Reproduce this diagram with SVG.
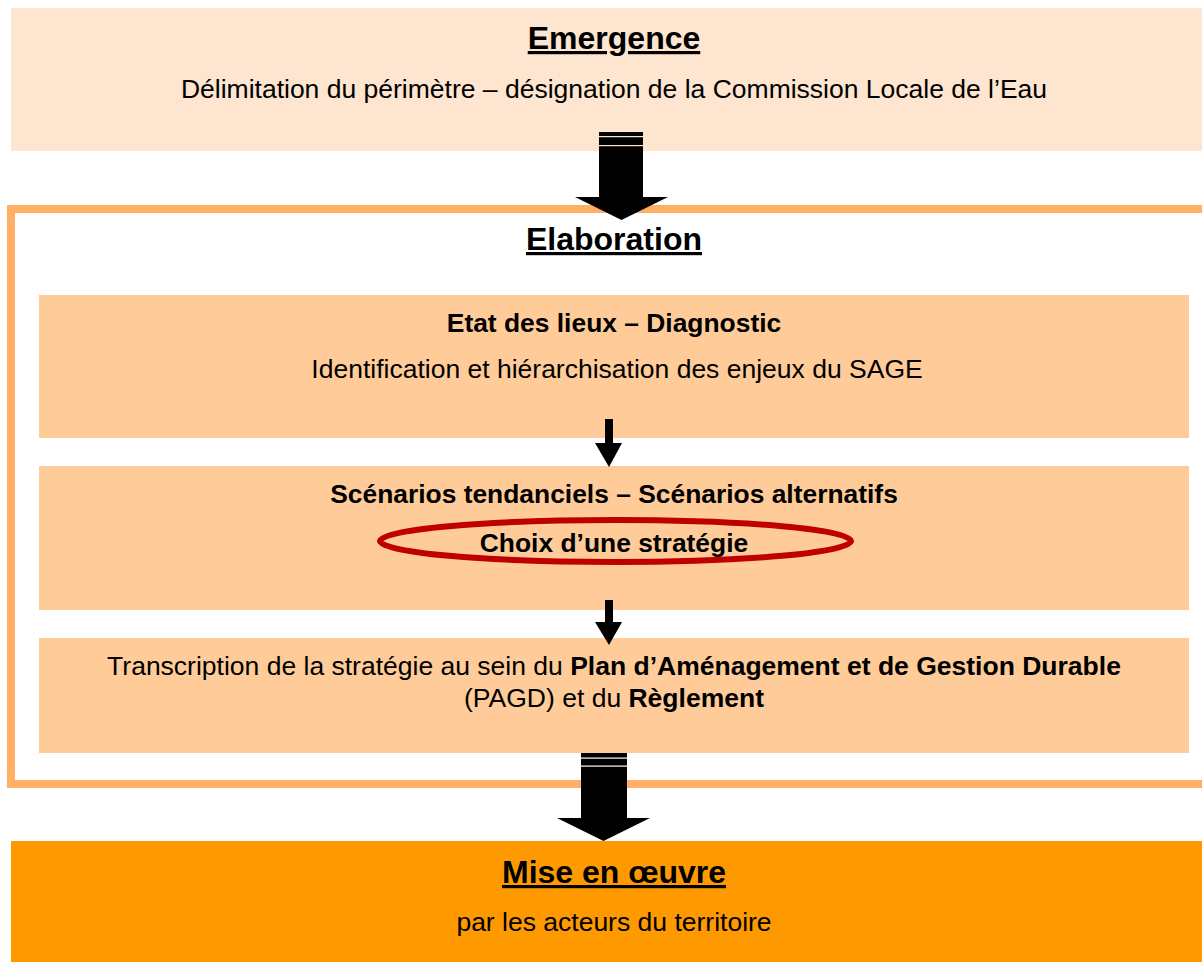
<svg xmlns="http://www.w3.org/2000/svg" width="1202" height="962" viewBox="0 0 1202 962">
<style>
text{font-family:"Liberation Sans",Arial,sans-serif;fill:#000;text-anchor:middle}
.title{font-size:32px;font-weight:bold;text-decoration:underline}
.body{font-size:26.5px}
.sub{font-size:26.4px;font-weight:bold}
.inner{fill:#FFCC99}
.big{fill:#000}
</style>
<rect x="0" y="0" width="1202" height="962" fill="#fff"/>
<g id="emergence">
<rect x="11" y="8" width="1191" height="143" fill="#FDE5CF"/>
<text class="title" x="614" y="49">Emergence</text>
<text class="body" x="614" y="98">Délimitation du périmètre – désignation de la Commission Locale de l’Eau</text>
</g>
<g id="elaboration">
<rect x="11" y="209" width="1200" height="575" fill="none" stroke="#FFB066" stroke-width="8"/>
<text class="title" x="614" y="250">Elaboration</text>
</g>
<g id="etat">
<rect class="inner" x="39" y="295" width="1150" height="143"/>
<text class="sub" x="614" y="332">Etat des lieux – Diagnostic</text>
<text class="body" x="617" y="378">Identification et hiérarchisation des enjeux du SAGE</text>
</g>
<g id="scenarios">
<rect class="inner" x="39" y="466" width="1150" height="144"/>
<text class="sub" x="614" y="503">Scénarios tendanciels – Scénarios alternatifs</text>
<ellipse cx="615.5" cy="541" rx="235.5" ry="21" fill="none" stroke="#C00000" stroke-width="6"/>
<text class="sub" x="614" y="552">Choix d’une stratégie</text>
</g>
<g id="transcription">
<rect class="inner" x="39" y="638" width="1150" height="115"/>
<text class="body" x="614" y="675">Transcription de la stratégie au sein du <tspan font-weight="bold">Plan d’Aménagement et de Gestion Durable</tspan></text>
<text class="body" x="614" y="707">(PAGD) et du <tspan font-weight="bold">Règlement</tspan></text>
</g>
<g id="mise">
<rect x="11" y="841" width="1191" height="121" fill="#FF9900"/>
<text class="title" x="614" y="883">Mise en œuvre</text>
<text class="body" x="614" y="931">par les acteurs du territoire</text>
</g>
<g id="connectors">
<g>
<rect class="big" x="599" y="132" width="44" height="66"/>
<rect x="599" y="136" width="44" height="1.2" fill="#FDE5CF"/>
<rect x="599" y="145" width="44" height="1.2" fill="#FDE5CF"/>
<polygon class="big" points="575,197 668,197 621.5,220"/>
</g>
<g>
<rect class="big" x="605" y="419" width="8" height="25"/>
<polygon class="big" points="595,443 622,443 609,467"/>
</g>
<g>
<rect class="big" x="605" y="600" width="8" height="23"/>
<polygon class="big" points="595,622 622,622 609,645"/>
</g>
<g>
<rect class="big" x="581" y="753" width="46" height="66"/>
<rect x="581" y="757.5" width="46" height="1.2" fill="#fff"/>
<rect x="581" y="765.5" width="46" height="1.2" fill="#fff"/>
<polygon class="big" points="557,818 650,818 603.5,841"/>
</g>
</g>
</svg>
